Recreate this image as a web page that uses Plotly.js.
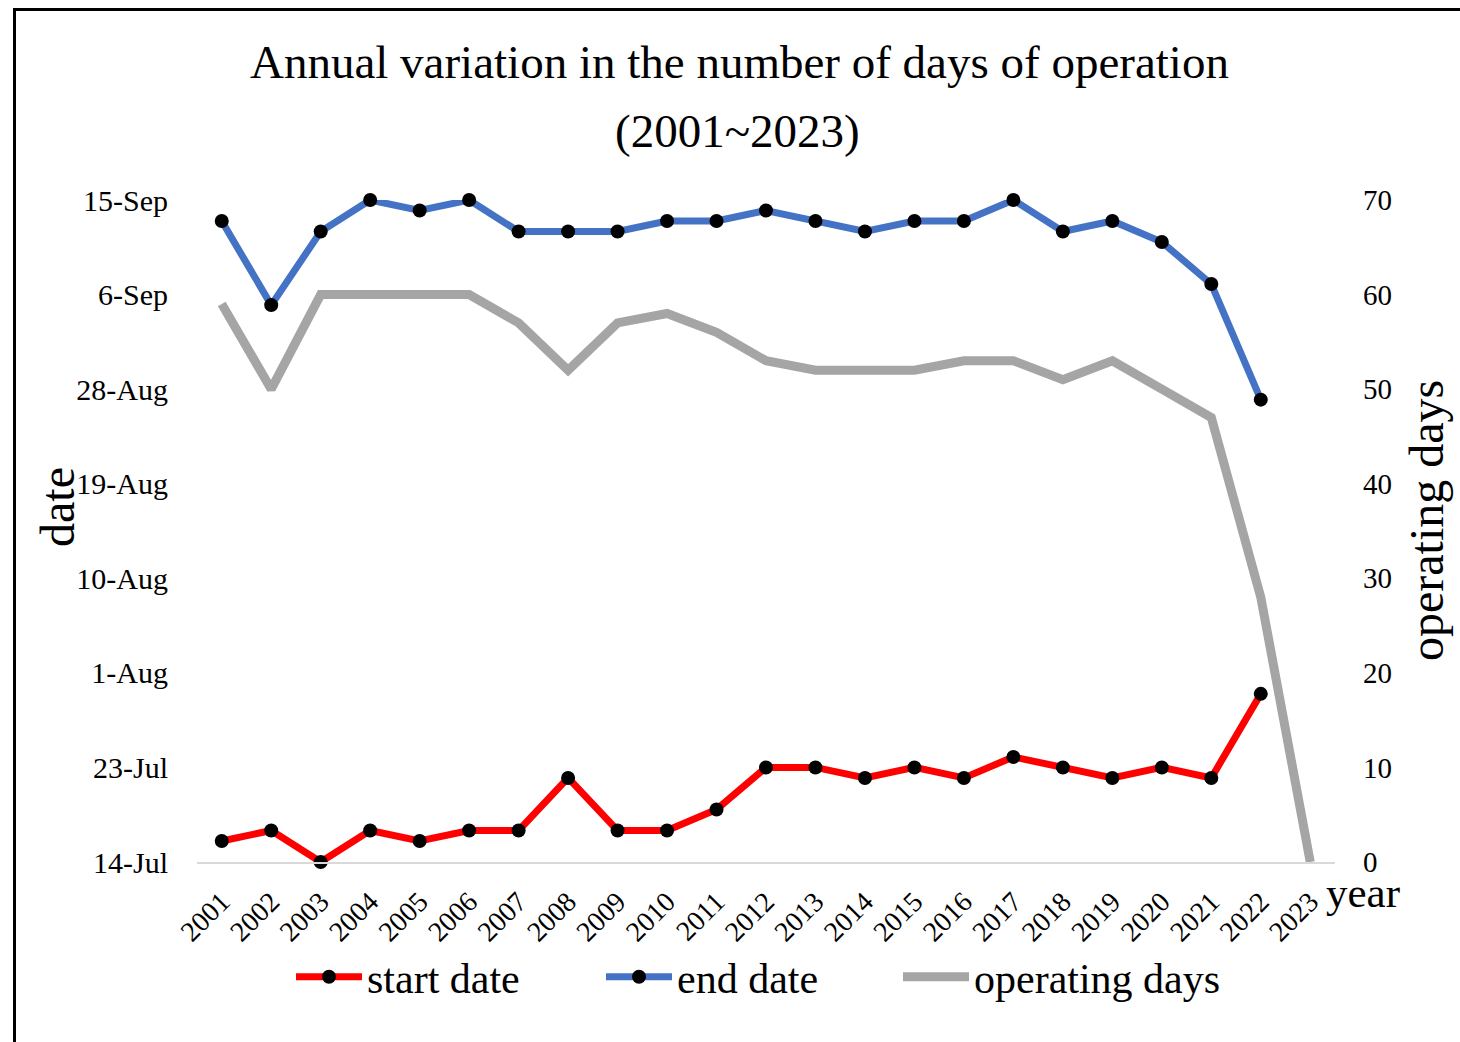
<!DOCTYPE html>
<html>
<head>
<meta charset="utf-8">
<script src="https://cdn.plot.ly/plotly-3.0.1.min.js"></script>
<style>
  html, body { margin: 0; padding: 0; background: #fff; }
  #wrap { position: relative; width: 1460px; height: 1042px; overflow: hidden; background: #fff; }
  #frame { position: absolute; left: 13px; top: 8px; width: 1600px; height: 1200px;
           border-top: 3px solid #000; border-left: 3px solid #000; pointer-events: none; z-index: 5; }
  #chart { position: absolute; left: 0; top: 0; width: 1460px; height: 1042px; }
</style>
</head>
<body>
<div id="wrap">
  <div id="chart"></div>
  <div id="frame"></div>
</div>
<script>
// ---- data ----
const years = ['2001','2002','2003','2004','2005','2006','2007','2008','2009','2010','2011','2012',
               '2013','2014','2015','2016','2017','2018','2019','2020','2021','2022','2023'];
// start / end dates as month-day (2023: no operation)
const startDate = ['07-16','07-17','07-14','07-17','07-16','07-17','07-17','07-22','07-17','07-17','07-19','07-23',
                   '07-23','07-22','07-23','07-22','07-24','07-23','07-22','07-23','07-22','07-30', null];
const endDate   = ['09-13','09-05','09-12','09-15','09-14','09-15','09-12','09-12','09-12','09-13','09-13','09-14',
                   '09-13','09-12','09-13','09-13','09-15','09-12','09-13','09-11','09-07','08-27', null];
const operatingDays = [59,50,60,60,60,60,57,52,57,58,56,53,52,52,52,53,53,51,53,50,47,28,0];
const rightTicks = [0,10,20,30,40,50,60,70];

const refYear = '2001-';
const toDate = d => d === null ? null : refYear + d;

const serif = 'Liberation Serif, Times New Roman, serif';

const traces = [
  {
    x: years, y: startDate.map(toDate), name: 'start date', type: 'scatter', mode: 'lines+markers',
    line: {color: '#ff0000', width: 7}, marker: {color: '#000000', size: 14},
    cliponaxis: false, yaxis: 'y', legend: 'legend'
  },
  {
    x: years, y: endDate.map(toDate), name: 'end date', type: 'scatter', mode: 'lines+markers',
    line: {color: '#4472c4', width: 7}, marker: {color: '#000000', size: 14},
    cliponaxis: false, yaxis: 'y', legend: 'legend2'
  },
  {
    x: years, y: operatingDays, name: 'operating days', type: 'scatter', mode: 'lines',
    line: {color: '#a5a5a5', width: 9},
    cliponaxis: false, yaxis: 'y2', legend: 'legend3'
  }
];

// plot area in page pixels: x 197..1335, y 200..862
const L = 197, R = 1335, T = 200, B = 862;
const W = 1460, H = 1042;
const px = x => (x - L) / (R - L);
const py = y => (B - y) / (B - T);

const legendBase = {
  orientation: 'h', xanchor: 'left', y: py(977), yanchor: 'middle',
  font: {family: serif, size: 42, color: '#000'},
  itemwidth: 66, bgcolor: 'rgba(0,0,0,0)'
};

const layout = {
  width: W, height: H,
  margin: {l: L, r: W - R, t: T, b: H - B, pad: 0},
  paper_bgcolor: '#ffffff', plot_bgcolor: '#ffffff',
  showlegend: true,
  font: {family: serif, color: '#000000'},
  xaxis: {
    type: 'category', range: [-0.5, 22.5],
    showgrid: false, zeroline: false,
    showline: true, linecolor: '#d9d9d9', linewidth: 2,
    ticks: '', tickangle: -45, ticklabelstandoff: 10,
    tickfont: {family: serif, size: 28, color: '#000'},
    fixedrange: true
  },
  yaxis: {
    type: 'date', range: [refYear + '07-14', refYear + '09-15'],
    tick0: refYear + '07-14', dtick: 9 * 86400000, tickformat: '%-d-%b',
    showgrid: false, zeroline: false, showline: false, ticks: '',
    ticklabelstandoff: 28,
    tickfont: {family: serif, size: 30, color: '#000'},
    fixedrange: true
  },
  yaxis2: {
    overlaying: 'y', side: 'right', range: [0, 70],
    tickvals: rightTicks, ticktext: rightTicks.map(String),
    showgrid: false, zeroline: false, showline: false, ticks: '',
    ticklabelstandoff: 27,
    tickfont: {family: serif, size: 29, color: '#000'},
    fixedrange: true
  },
  legend:  Object.assign({}, legendBase, {x: px(291)}),
  legend2: Object.assign({}, legendBase, {x: px(601)}),
  legend3: Object.assign({}, legendBase, {x: px(898)}),
  annotations: [
    {text: 'Annual variation in the number of days of operation', xref: 'paper', yref: 'paper',
     x: px(739), y: py(62), xanchor: 'center', yanchor: 'middle', showarrow: false,
     font: {family: serif, size: 47, color: '#000'}},
    {text: '(2001~2023)', xref: 'paper', yref: 'paper',
     x: px(737), y: py(131), xanchor: 'center', yanchor: 'middle', showarrow: false,
     font: {family: serif, size: 47, color: '#000'}},
    {text: 'date', xref: 'paper', yref: 'paper', textangle: -90,
     x: px(57), y: py(507), xanchor: 'center', yanchor: 'middle', showarrow: false,
     font: {family: serif, size: 48, color: '#000'}},
    {text: 'operating days', xref: 'paper', yref: 'paper', textangle: -90,
     x: px(1426), y: py(521), xanchor: 'center', yanchor: 'middle', showarrow: false,
     font: {family: serif, size: 48, color: '#000'}},
    {text: 'year', xref: 'paper', yref: 'paper',
     x: px(1363), y: py(892), xanchor: 'center', yanchor: 'middle', showarrow: false,
     font: {family: serif, size: 43, color: '#000'}}
  ]
};

Plotly.newPlot('chart', traces, layout, {displayModeBar: false, staticPlot: true});
</script>
</body>
</html>
